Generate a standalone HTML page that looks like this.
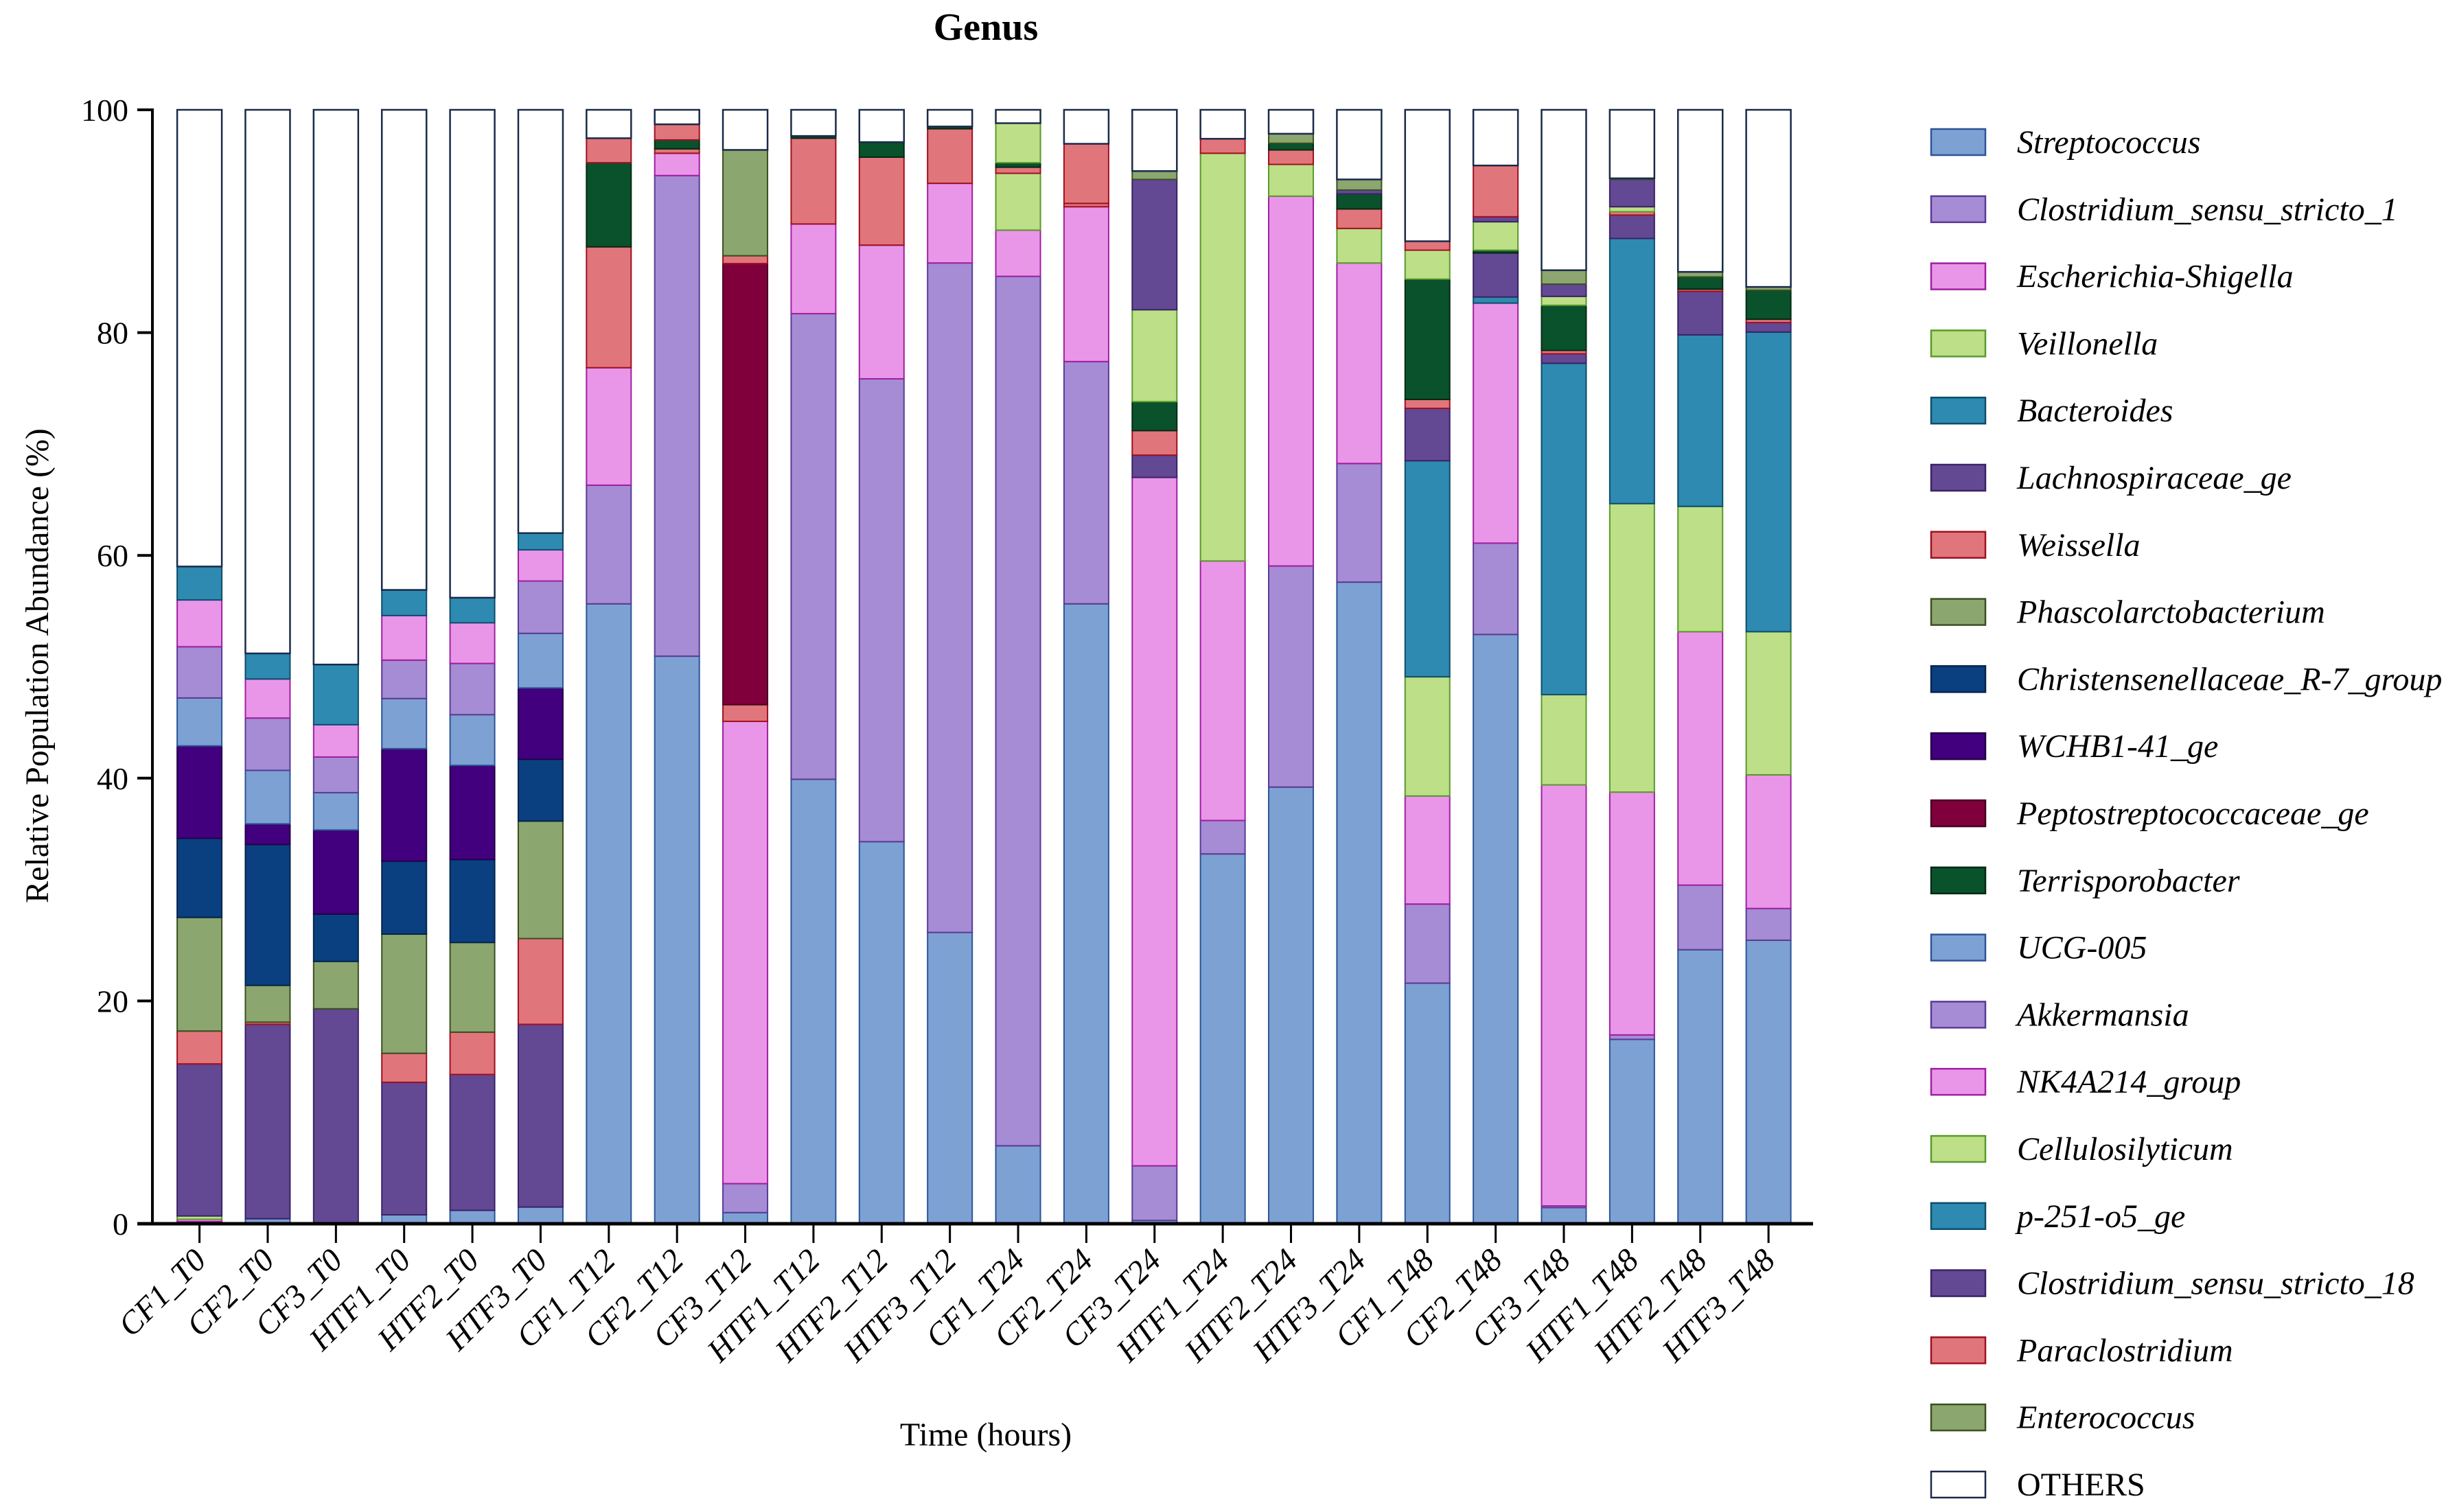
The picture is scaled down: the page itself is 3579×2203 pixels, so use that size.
<!DOCTYPE html>
<html><head><meta charset="utf-8"><style>
html,body{margin:0;padding:0;background:#fff;}
svg{display:block;}
text{font-family:"Liberation Serif",serif;fill:#000;}
</style></head><body>
<svg id="chart" width="3579" height="2203" viewBox="0 0 3579 2203" xmlns="http://www.w3.org/2000/svg">
<text x="1436" y="58" font-size="56" font-weight="bold" text-anchor="middle">Genus</text>
<text transform="translate(70,970) rotate(-90)" font-size="48" text-anchor="middle">Relative Population Abundance (%)</text>
<text x="1436" y="2106" font-size="48" text-anchor="middle">Time (hours)</text>
<g id="bars"></g>
<g id="axes"></g>
<g id="legend"></g>
</svg>
<script>
const samples = ["CF1_T0","CF2_T0","CF3_T0","HTF1_T0","HTF2_T0","HTF3_T0","CF1_T12","CF2_T12","CF3_T12","HTF1_T12","HTF2_T12","HTF3_T12","CF1_T24","CF2_T24","CF3_T24","HTF1_T24","HTF2_T24","HTF3_T24","CF1_T48","CF2_T48","CF3_T48","HTF1_T48","HTF2_T48","HTF3_T48"];
const yTicks = [0,20,40,60,80,100];
const streptococcus = [0.2,0.45,0,0.8,1.2,1.5,55.65,50.95,1.0,39.9,34.3,26.15,7.0,55.65,0.3,33.2,39.2,57.6,21.6,52.9,1.45,16.55,24.6,25.45];
const clostridium1 = [0,0,0,0,0,0,10.65,43.15,2.6,41.8,41.55,60.1,78.05,21.75,4.9,3.0,19.85,10.65,7.1,8.2,0.15,0.4,5.8,2.85];
const escherichia = [0.2,0,0,0,0,0,10.55,2.0,41.5,8.05,12.0,7.15,4.15,13.9,61.8,23.3,33.2,18.0,9.7,21.55,37.8,21.8,22.75,12.0];
const veillonella = [0.3,0,0,0,0,0,0,0,0,0,0,0,5.1,0,0,36.6,2.85,3.1,10.7,0,8.1,25.9,11.25,12.85];
const bacteroides = [0,0,0,0,0,0,0,0,0,0,0,0,0,0,0,0,0,0,19.4,0.55,29.75,23.8,15.4,26.9];
const lachnospiraceae = [13.65,17.45,19.3,11.9,12.2,16.4,0,0,0,0,0,0,0,0,2.0,0,0,0,4.7,3.95,0.85,2.1,3.9,0.85];
const weissella = [2.95,0.2,0,2.6,3.8,7.7,10.85,0.4,1.5,7.7,7.9,4.9,0.55,0.3,2.2,1.3,1.3,1.75,0.8,0,0.3,0.3,0.2,0.3];
const phascolarcto = [10.2,3.3,4.25,10.7,8.05,10.55,0,0,0,0,0,0,0,0,0,0,0,0,0,0,0,0,0,0];
const christensen = [7.1,12.65,4.25,6.55,7.45,5.55,0,0,0,0,0,0,0,0,0,0,0,0,0,0,0,0,0,0];
const wchb = [8.3,1.85,7.55,10.1,8.45,6.4,0,0,0,0,0,0,0,0,0,0,0,0,0,0,0,0,0,0];
const peptostrep = [0,0,0,0,0,0,0,0,39.6,0,0,0,0,0,0,0,0,0,0,0,0,0,0,0];
const terrisporo = [0,0,0,0,0,0,7.55,0.8,0,0.2,1.35,0.2,0.4,0,2.6,0,0.6,1.35,10.8,0.25,4.05,0,1.1,2.6];
const ucg005 = [4.3,4.8,3.35,4.5,4.55,4.9,0,0,0,0,0,0,0,0,0,0,0,0,0,0,0,0,0,0];
const akkermansia = [4.6,4.7,3.2,3.45,4.6,4.7,0,0,0,0,0,0,0,0,0,0,0,0,0,0,0,0,0,0];
const nk4a214 = [4.2,3.5,2.9,4.0,3.65,2.8,0,0,0,0,0,0,0,0,0,0,0,0,0,0,0,0,0,0];
const cellulosi = [0,0,0,0,0,0,0,0,0,0,0,0,3.55,0,8.25,0,0,0,2.6,2.55,0.8,0.45,0,0];
const p251 = [3.0,2.3,5.4,2.3,2.25,1.5,0,0,0,0,0,0,0,0,0,0,0,0,0,0,0,0,0,0];
const clostridium18 = [0,0,0,0,0,0,0,0,0,0,0,0,0,0,11.7,0,0,0.35,0,0.45,1.1,2.45,0,0];
const paraclostridium = [0,0,0,0,0,0,2.2,1.4,0.7,0,0,0,0,5.35,0,0,0,0,0.8,4.6,0,0,0,0];
const enterococcus = [0,0,0,0,0,0,0,0,9.5,0,0,0,0,0,0.75,0,0.85,0.95,0,0,1.25,0.1,0.45,0.3];

const series = [
 {name:"Streptococcus",v:streptococcus,f:"#7ea1d4",s:"#2c5596",it:true},
 {name:"Clostridium_sensu_stricto_1",v:clostridium1,f:"#a58cd4",s:"#5a3b95",it:true},
 {name:"Escherichia-Shigella",v:escherichia,f:"#e996e9",s:"#a020a0",it:true},
 {name:"Veillonella",v:veillonella,f:"#bddf88",s:"#5a9a2a",it:true},
 {name:"Bacteroides",v:bacteroides,f:"#2e8ab0",s:"#0d4d6b",it:true},
 {name:"Lachnospiraceae_ge",v:lachnospiraceae,f:"#634894",s:"#3a2366",it:true},
 {name:"Weissella",v:weissella,f:"#e0767b",s:"#a01020",it:true},
 {name:"Phascolarctobacterium",v:phascolarcto,f:"#8ca66f",s:"#3a5020",it:true},
 {name:"Christensenellaceae_R-7_group",v:christensen,f:"#0a3f80",s:"#05254d",it:true},
 {name:"WCHB1-41_ge",v:wchb,f:"#42007f",s:"#25004a",it:true},
 {name:"Peptostreptococcaceae_ge",v:peptostrep,f:"#80003c",s:"#4a0020",it:true},
 {name:"Terrisporobacter",v:terrisporo,f:"#0a522b",s:"#032a14",it:true},
 {name:"UCG-005",v:ucg005,f:"#7ea1d4",s:"#2c5596",it:true},
 {name:"Akkermansia",v:akkermansia,f:"#a58cd4",s:"#5a3b95",it:true},
 {name:"NK4A214_group",v:nk4a214,f:"#e996e9",s:"#a020a0",it:true},
 {name:"Cellulosilyticum",v:cellulosi,f:"#bddf88",s:"#5a9a2a",it:true},
 {name:"p-251-o5_ge",v:p251,f:"#2e8ab0",s:"#0d4d6b",it:true},
 {name:"Clostridium_sensu_stricto_18",v:clostridium18,f:"#634894",s:"#3a2366",it:true},
 {name:"Paraclostridium",v:paraclostridium,f:"#e0767b",s:"#a01020",it:true},
 {name:"Enterococcus",v:enterococcus,f:"#8ca66f",s:"#3a5020",it:true}
];
const NS="http://www.w3.org/2000/svg";
const X0=222, X1=2641, Y0=1783, Y100=160, STEP=99.37, FIRST=290.6, BW=65;
const xPos = i => FIRST + i*STEP;
const yPos = v => Y0 - (Y0-Y100)*v/100;
function mk(tag, attrs, parent){const e=document.createElementNS(NS,tag);for(const k in attrs)e.setAttribute(k,attrs[k]);parent.appendChild(e);return e;}
const bars=document.getElementById('bars');
samples.forEach((s,i)=>{
  const g=mk('g',{},bars);
  
  
  let cum=0;
  const x=xPos(i)-BW/2;
  series.forEach(se=>{
    const v=se.v[i];
    if(v<=0) return;
    const r=mk('rect',{x:x,y:yPos(cum+v),width:BW,height:yPos(cum)-yPos(cum+v),fill:se.f,stroke:se.s,'stroke-width':2},g);
    
    
    cum+=v;
  });
  const o=mk('rect',{x:x,y:yPos(100),width:BW,height:yPos(cum)-yPos(100),fill:'#fff',stroke:'#1a2b4a','stroke-width':2.5},g);
  
  
});
const axes=document.getElementById('axes');
const ya=mk('line',{x1:X0,y1:Y100-2,x2:X0,y2:Y0+2,stroke:'#000','stroke-width':4},axes);


const xa=mk('line',{x1:X0-22,y1:Y0,x2:X1,y2:Y0,stroke:'#000','stroke-width':5},axes);


yTicks.forEach(t=>{
  const l=mk('line',{x1:X0-22,y1:yPos(t),x2:X0,y2:yPos(t),stroke:'#000','stroke-width':4},axes);
  
  
  const tx=mk('text',{x:X0-35,y:yPos(t)+16,'font-size':46,'text-anchor':'end'},axes);
  tx.textContent=t;
  
  
});
samples.forEach((s,i)=>{
  const l=mk('line',{x1:xPos(i),y1:Y0,x2:xPos(i),y2:Y0+28,stroke:'#000','stroke-width':3},axes);
  
  
  const tx=mk('text',{transform:`translate(${xPos(i)+12},${Y0+56}) rotate(-45)`,'font-size':47,'font-style':'italic','text-anchor':'end'},axes);
  tx.textContent=s;
  
  
});
const legend=document.getElementById('legend');
const entries=series.concat([{name:"OTHERS",f:"#fff",s:"#1a2b4a",it:false}]);
entries.forEach((se,k)=>{
  const cy=207+k*97.8;
  const g=mk('g',{},legend);
  
  
  mk('rect',{x:2813,y:cy-19,width:79,height:38,fill:se.f,stroke:se.s,'stroke-width':2.5},g);
  const tx=mk('text',{x:2938,y:cy+16,'font-size':48,'font-style':se.it?'italic':'normal'},g);
  tx.textContent=se.name;
});
</script>
</body></html>
